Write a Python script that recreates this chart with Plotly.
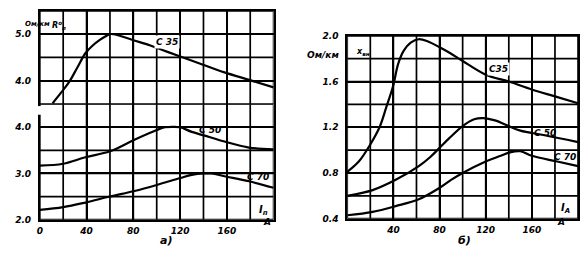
import plotly.graph_objects as go

# ---- data (a): left chart, active resistance, Ohm/km ----
I_a35 = [11, 18, 25, 32, 39, 45, 51, 56, 60, 65, 69, 80, 94, 106, 119, 139, 158, 179, 200]
R_a35 = [3.52, 3.74, 3.97, 4.28, 4.59, 4.75, 4.87, 4.95, 5.0, 4.99, 4.96, 4.87, 4.76, 4.65, 4.53, 4.35, 4.18, 4.02, 3.86]
I_a50 = [0, 20, 39, 60, 81, 100, 107, 114, 120, 130, 145, 158, 179, 200]
R_a50 = [3.17, 3.21, 3.35, 3.48, 3.73, 3.94, 4.0, 4.01, 4.0, 3.9, 3.79, 3.69, 3.56, 3.52]
I_a70 = [0, 20, 39, 60, 81, 100, 120, 130, 140, 147, 158, 179, 200]
R_a70 = [2.21, 2.27, 2.37, 2.5, 2.62, 2.75, 2.9, 2.97, 3.0, 3.0, 2.94, 2.83, 2.69]

# ---- data (b): right chart, internal reactance, Ohm/km ----
I_b35 = [0, 10, 20, 28, 34, 40, 44, 49, 55, 62, 70, 80, 89, 100, 120, 140, 160, 180, 200]
X_b35 = [0.81, 0.9, 1.05, 1.2, 1.38, 1.57, 1.75, 1.87, 1.94, 1.97, 1.95, 1.9, 1.85, 1.78, 1.66, 1.6, 1.53, 1.47, 1.41]
I_b50 = [0, 22, 42, 62, 72, 80, 88, 100, 110, 118, 128, 140, 150, 171, 200]
X_b50 = [0.6, 0.65, 0.74, 0.86, 0.94, 1.02, 1.1, 1.21, 1.27, 1.28, 1.26, 1.21, 1.17, 1.13, 1.07]
I_b70 = [0, 22, 42, 62, 80, 90, 100, 120, 133, 141, 150, 160, 182, 200]
X_b70 = [0.43, 0.46, 0.51, 0.57, 0.67, 0.74, 0.8, 0.9, 0.95, 0.98, 0.99, 0.95, 0.9, 0.86]

x_ticks_a = [0, 40, 80, 120, 160]
x_ticks_b = [40, 80, 120, 160]
ya_up_ticks = [5.0, 4.0]
ya_lo_ticks = [4.0, 3.0, 2.0]
yb_ticks = [2.0, 1.6, 1.2, 0.8, 0.4]

# grid steps (chart scale divisions)
x_grid = [0, 20, 40, 60, 80, 100, 120, 140, 160, 180, 200]
ya_up_grid = [3.5, 4.0, 4.5, 5.0, 5.5]
ya_lo_grid = [2.0, 2.5, 3.0, 3.5, 4.0, 4.5]
yb_grid = [0.4, 0.6, 0.8, 1.0, 1.2, 1.4, 1.6, 1.8, 2.0]

W, H = 587, 267
def px(x): return x / W
def py(y): return 1 - y / H

ink = "#000000"
font = dict(family="DejaVu Sans", size=9, color=ink)
line = dict(color=ink, width=2.2, shape="spline", smoothing=1.0)

def bi(s):
    return f"<b><i>{s}</i></b>"

fig = go.Figure()

# grid as line traces on each panel's own scales (drawn first, under the curves)
def grid_trace(xs, ys, xa, ya):
    gx, gy = [], []
    for v in xs:
        gx += [v, v, None]
        gy += [ys[0], ys[-1], None]
    for v in ys:
        gx += [xs[0], xs[-1], None]
        gy += [v, v, None]
    fig.add_trace(go.Scatter(x=gx, y=gy, mode="lines", line=dict(color="#000000", width=1.7),
                             connectgaps=False, xaxis=xa, yaxis=ya, showlegend=False,
                             hoverinfo="skip", cliponaxis=False))

grid_trace(x_grid, ya_up_grid, "x", "y")
grid_trace(x_grid, ya_lo_grid, "x2", "y2")
grid_trace(x_grid, yb_grid, "x3", "y3")

fig.add_trace(go.Scatter(x=I_a35, y=R_a35, mode="lines", line=line, xaxis="x", yaxis="y", showlegend=False))
fig.add_trace(go.Scatter(x=I_a50, y=R_a50, mode="lines", line=line, xaxis="x2", yaxis="y2", showlegend=False))
fig.add_trace(go.Scatter(x=I_a70, y=R_a70, mode="lines", line=line, xaxis="x2", yaxis="y2", showlegend=False))
fig.add_trace(go.Scatter(x=I_b35, y=X_b35, mode="lines", line=line, xaxis="x3", yaxis="y3", showlegend=False))
fig.add_trace(go.Scatter(x=I_b50, y=X_b50, mode="lines", line=line, xaxis="x3", yaxis="y3", showlegend=False))
fig.add_trace(go.Scatter(x=I_b70, y=X_b70, mode="lines", line=line, xaxis="x3", yaxis="y3", showlegend=False))

ax_common = dict(showgrid=True, gridcolor="#000000", gridwidth=1.7, showline=True, linecolor=ink,
                 linewidth=1.8, mirror=True, zeroline=False, ticks="outside", ticklen=5,
                 tickcolor="rgba(0,0,0,0)", tickfont=font)

xd_a = [px(37), px(272)]
xd_b = [px(346), px(578)]

fig.update_layout(
    width=W, height=H, margin=dict(l=0, r=0, t=0, b=0),
    paper_bgcolor="white", plot_bgcolor="rgba(0,0,0,0)",
    xaxis=dict(ax_common, domain=xd_a, range=[0, 200], tickmode="array", tickvals=x_ticks_a,
               showticklabels=False, side="top", mirror=False, anchor="y"),
    yaxis=dict(ax_common, domain=[py(103), py(6)], range=[3.5, 5.5], tickmode="array",
               tickvals=ya_up_ticks, ticktext=[bi(f"{v:.1f}") for v in ya_up_ticks], anchor="x"),
    xaxis2=dict(ax_common, domain=xd_a, range=[0, 200], tickmode="array", tickvals=x_ticks_a,
                ticktext=[bi(v) for v in x_ticks_a], anchor="y2", mirror=False, ticklen=2),
    yaxis2=dict(ax_common, domain=[py(223), py(103)], range=[2.0, 4.5], tickmode="array",
                tickvals=ya_lo_ticks, ticktext=[bi(f"{v:.1f}") for v in ya_lo_ticks], anchor="x2"),
    xaxis3=dict(ax_common, domain=xd_b, range=[0, 200], tickmode="array", tickvals=x_ticks_b,
                ticktext=[bi(v) for v in x_ticks_b], anchor="y3", ticklen=2),
    yaxis3=dict(ax_common, domain=[py(222), py(32)], range=[0.4, 2.0], tickmode="array",
                tickvals=yb_ticks, ticktext=[bi(f"{v:.1f}") for v in yb_ticks], anchor="x3"),
)

# broken left axis of chart (a)
fig.add_shape(type="rect", xref="paper", yref="paper", x0=px(34), x1=px(40), y0=py(114), y1=py(105),
              fillcolor="white", line=dict(width=0), layer="above")

def ann(x, y, text, xref, yref, size=9, **kw):
    fig.add_annotation(x=x, y=y, text=bi(text), xref=xref, yref=yref, showarrow=False,
                       font=dict(font, size=size), **kw)

# labels, chart (a)
ann(109, 4.84, "С 35", "x", "y", bgcolor="white")
ann(146, 3.93, "С 50", "x2", "y2")
ann(187, 2.92, "С 70", "x2", "y2")
ann(191, 2.2, "I<sub>п</sub>", "x2", "y2", size=10)
ann(px(265), py(233), "A", "paper", "paper")
ann(px(20), py(13), "Ом/км", "paper", "paper", size=7)
ann(px(47), py(14), "R<sup>о</sup><sub>п</sub>", "paper", "paper", size=8)
ann(px(156), py(254), "а)", "paper", "paper", size=11)

# labels, chart (b)
ann(131, 1.71, "С35", "x3", "y3", bgcolor="white")
ann(171, 1.15, "С 50", "x3", "y3")
ann(189, 0.94, "С 70", "x3", "y3")
ann(189, 0.49, "I<sub>А</sub>", "x3", "y3", size=10)
ann(px(567), py(233), "A", "paper", "paper")
ann(px(322), py(45), "Ом/км", "paper", "paper", size=9)
ann(px(362), py(42), "x<sub>вн</sub>", "paper", "paper", size=8)
ann(px(472), py(254), "б)", "paper", "paper", size=11)

fig.write_html("out.html")
